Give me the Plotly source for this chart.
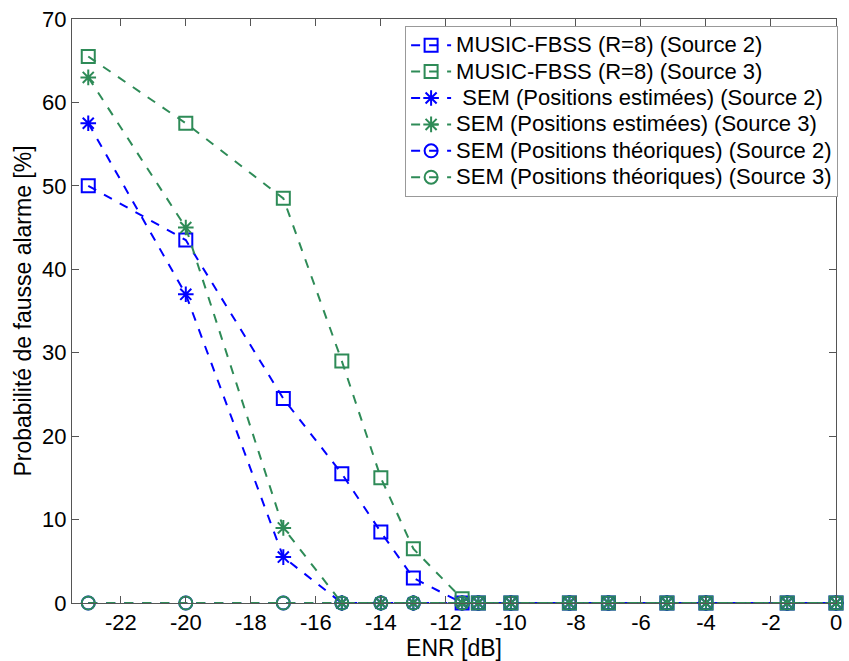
import plotly.graph_objects as go

# ENR values (dB) at which detection was evaluated
enr = [-23, -20, -17, -15.2, -14, -13, -11.5, -11, -10, -8.2, -7, -5.2, -4, -1.5, 0]

# False-alarm probability (%) per method and source
music_s2 = [50, 43.5, 24.5, 15.5, 8.5, 3, 0, 0, 0, 0, 0, 0, 0, 0, 0]
music_s3 = [65.5, 57.5, 48.5, 29, 15, 6.5, 0.5, 0, 0, 0, 0, 0, 0, 0, 0]
sem_est_s2 = [57.5, 37, 5.5, 0, 0, 0, 0, 0, 0, 0, 0, 0, 0, 0, 0]
sem_est_s3 = [63, 45, 9, 0, 0, 0, 0, 0, 0, 0, 0, 0, 0, 0, 0]
sem_th_s2 = [0] * 15
sem_th_s3 = [0] * 15

x_ticks = [-22, -20, -18, -16, -14, -12, -10, -8, -6, -4, -2, 0]
x_labels = ["-22", "-20", "-18", "-16", "-14", "-12", "-10", "-8", "-6", "-4", "-2", "0"]
y_ticks = [0, 10, 20, 30, 40, 50, 60, 70]

BLUE = "#0000FF"
GREEN = "#2E8B57"

series = [
    ("MUSIC-FBSS (R=8) (Source 2)", music_s2, BLUE, "square-open"),
    ("MUSIC-FBSS (R=8) (Source 3)", music_s3, GREEN, "square-open"),
    (" SEM (Positions estimées) (Source 2)", sem_est_s2, BLUE, "asterisk-open"),
    ("SEM (Positions estimées) (Source 3)", sem_est_s3, GREEN, "asterisk-open"),
    ("SEM (Positions théoriques) (Source 2)", sem_th_s2, BLUE, "circle-open"),
    ("SEM (Positions théoriques) (Source 3)", sem_th_s3, GREEN, "circle-open"),
]

fig = go.Figure()
for name, vals, color, sym in series:
    # larger label text inside a tighter legend row spacing
    label = "<span style='font-size:22px'>" + name.replace(" ", "&nbsp;", 1 if name.startswith(" ") else 0) + "</span>"
    fig.add_trace(go.Scatter(
        x=enr, y=vals, name=label, mode="lines+markers", cliponaxis=False,
        line=dict(color=color, width=2, dash="dash"),
        marker=dict(symbol=sym, size=13, color=color,
                    line=dict(color=color, width=2)),
    ))

axis_common = dict(
    showgrid=False, zeroline=False, showline=True, linecolor="#555555",
    linewidth=1, mirror="ticks", ticks="inside", ticklen=7,
    tickcolor="#555555", tickfont=dict(family="Liberation Sans, Arial", size=22, color="black"),
)

fig.update_layout(
    width=849, height=661,
    margin=dict(l=72, r=7, t=15, b=57),
    paper_bgcolor="white", plot_bgcolor="white",
    font=dict(family="Liberation Sans, Arial", color="black"),
    xaxis=dict(range=[-23.5, 0], tickvals=x_ticks, ticktext=x_labels,
               title=dict(text="ENR [dB]", font=dict(size=23), standoff=2),
               **axis_common),
    yaxis=dict(range=[0, 70], tickvals=y_ticks,
               title=dict(text="Probabilité de fausse alarme [%]", font=dict(size=23), standoff=4),
               **axis_common),
    legend=dict(x=0.436, y=0.988, xanchor="left", yanchor="top",
                bgcolor="white", bordercolor="#999999", borderwidth=1,
                font=dict(size=18), tracegroupgap=0, itemwidth=40),
    showlegend=True,
)

fig.write_html("out.html")
